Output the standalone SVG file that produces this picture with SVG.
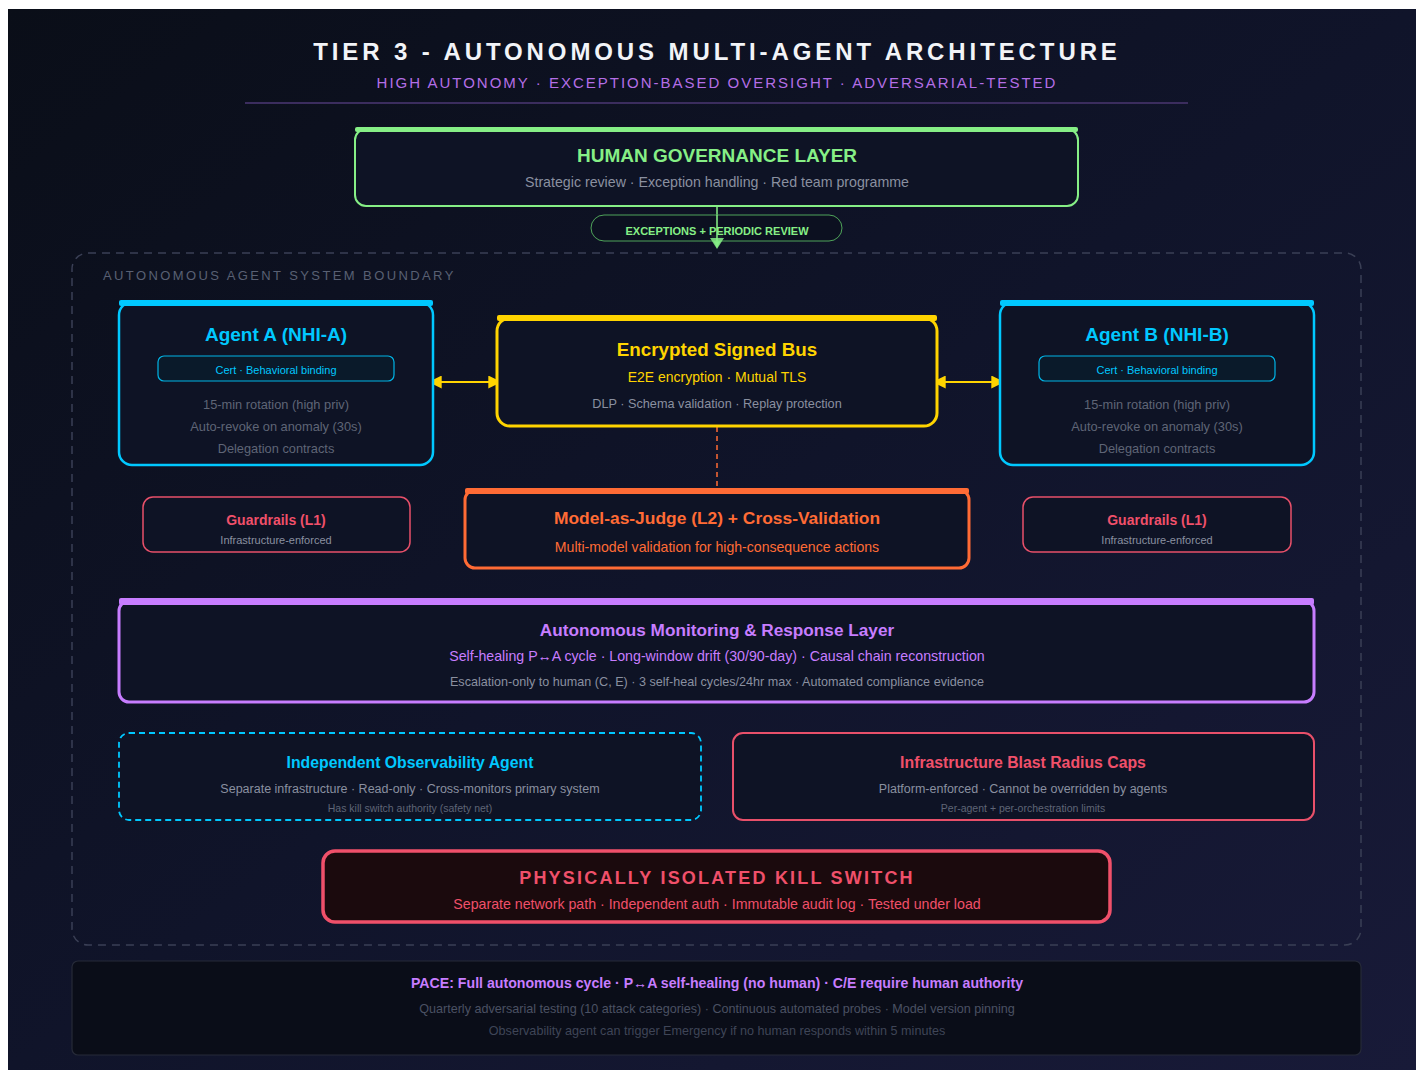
<svg xmlns="http://www.w3.org/2000/svg" width="1416" height="1070" viewBox="0 0 1416 1070">
<defs>
<linearGradient id="bg" x1="0" y1="0" x2="1" y2="1">
<stop offset="0" stop-color="#0a0e18"/>
<stop offset="0.5" stop-color="#10142a"/>
<stop offset="1" stop-color="#181a38"/>
</linearGradient>
<marker id="ay" viewBox="0 0 10 10" refX="9" refY="5" markerWidth="13" markerHeight="13" markerUnits="userSpaceOnUse" orient="auto-start-reverse">
<path d="M0,0 L10,5 L0,10 z" fill="#ffd400"/>
</marker>
<marker id="ag" viewBox="0 0 10 10" refX="9" refY="5" markerWidth="13" markerHeight="13" markerUnits="userSpaceOnUse" orient="auto">
<path d="M0,0 L10,5 L0,10 z" fill="#86ef86" fill-opacity="0.85"/>
</marker>
</defs>
<style>
text{font-family:"Liberation Sans",Arial,sans-serif;text-anchor:middle}
.box{fill:#0e1325}
.b{font-weight:bold}
.gray{fill:#8a90a0}
.dim{fill:#5f6576}
.cy{fill:#00c8ff}
.yl{fill:#ffd400}
.or{fill:#ff6b35}
.rd{fill:#f0506a}
.pu{fill:#c77dff}
.gr{fill:#86ef86}
</style>
<rect x="0" y="0" width="1416" height="1070" fill="#ffffff"/>
<rect x="8" y="9" width="1408" height="1061" fill="url(#bg)"/>

<g id="title">
<text x="717" y="60" font-size="24" class="b" fill="#f2f4f8" letter-spacing="3.9">TIER 3 - AUTONOMOUS MULTI-AGENT ARCHITECTURE</text>
<text x="717" y="88" font-size="15" letter-spacing="2" style="fill:#b46ee6">HIGH AUTONOMY · EXCEPTION-BASED OVERSIGHT · ADVERSARIAL-TESTED</text>
<line x1="245" y1="103" x2="1188" y2="103" stroke="#3b2d5e" stroke-width="2"/>
</g>

<g id="boundary">
<rect x="72" y="253" width="1289" height="692" rx="16" fill="none" stroke="#3a3f55" stroke-width="1.5" stroke-dasharray="8 6"/>
<text x="103" y="280" font-size="13" fill="#596073" letter-spacing="2.4" style="text-anchor:start">AUTONOMOUS AGENT SYSTEM BOUNDARY</text>
</g>

<g id="connectors">
<line x1="717" y1="206" x2="717" y2="247" stroke="#86ef86" stroke-width="1.5" marker-end="url(#ag)"/>
<line x1="430" y1="382" x2="500" y2="382" stroke="#ffd400" stroke-width="2" marker-start="url(#ay)" marker-end="url(#ay)"/>
<line x1="934" y1="382" x2="1003" y2="382" stroke="#ffd400" stroke-width="2" marker-start="url(#ay)" marker-end="url(#ay)"/>
<line x1="717" y1="427" x2="717" y2="489" stroke="#ff6b35" stroke-width="1.5" stroke-dasharray="5 4"/>
</g>

<g id="governance">
<rect x="355" y="129" width="723" height="77" rx="11" class="box" stroke="#86ef86" stroke-width="2"/>
<rect x="355" y="127" width="723" height="5" rx="2" fill="#86ef86"/>
<text x="717" y="162" font-size="19" class="b gr">HUMAN GOVERNANCE LAYER</text>
<text x="717" y="187" font-size="14.2" class="gray">Strategic review · Exception handling · Red team programme</text>
</g>

<g id="review-label">
<rect x="591" y="215" width="251" height="26" rx="13" fill="#0c1120" fill-opacity="0.9" stroke="#4fa35a" stroke-width="1"/>
<line x1="717" y1="215" x2="717" y2="241" stroke="#86ef86" stroke-width="1.5"/>
<text x="717" y="235" font-size="11" class="b gr">EXCEPTIONS + PERIODIC REVIEW</text>
<path d="M710,238 L724,238 L717,249 z" fill="#86ef86" fill-opacity="0.85"/>
</g>

<g id="agent-a">
<rect x="119" y="302" width="314" height="163" rx="13" class="box" stroke="#00c8ff" stroke-width="2.5"/>
<rect x="119" y="300" width="314" height="6" rx="2" fill="#00c8ff"/>
<text x="276" y="341" font-size="19" class="b cy">Agent A (NHI-A)</text>
<rect x="158" y="356" width="236" height="25" rx="6" fill="#0a1a2a" stroke="#00b4e6" stroke-width="1.2"/>
<text x="276" y="374" font-size="11" class="cy">Cert · Behavioral binding</text>
<text x="276" y="409" font-size="12.8" class="dim">15-min rotation (high priv)</text>
<text x="276" y="431" font-size="12.8" class="dim">Auto-revoke on anomaly (30s)</text>
<text x="276" y="453" font-size="12.8" class="dim">Delegation contracts</text>
</g>

<g id="bus">
<rect x="497" y="318" width="440" height="108" rx="13" class="box" stroke="#ffd400" stroke-width="3"/>
<rect x="497" y="315" width="440" height="6" rx="2" fill="#ffd400"/>
<text x="717" y="356" font-size="18.8" class="b yl">Encrypted Signed Bus</text>
<text x="717" y="382" font-size="14" class="yl">E2E encryption · Mutual TLS</text>
<text x="717" y="408" font-size="12.7" class="gray">DLP · Schema validation · Replay protection</text>
</g>

<g id="agent-b">
<rect x="1000" y="302" width="314" height="163" rx="13" class="box" stroke="#00c8ff" stroke-width="2.5"/>
<rect x="1000" y="300" width="314" height="6" rx="2" fill="#00c8ff"/>
<text x="1157" y="341" font-size="19" class="b cy">Agent B (NHI-B)</text>
<rect x="1039" y="356" width="236" height="25" rx="6" fill="#0a1a2a" stroke="#00b4e6" stroke-width="1.2"/>
<text x="1157" y="374" font-size="11" class="cy">Cert · Behavioral binding</text>
<text x="1157" y="409" font-size="12.8" class="dim">15-min rotation (high priv)</text>
<text x="1157" y="431" font-size="12.8" class="dim">Auto-revoke on anomaly (30s)</text>
<text x="1157" y="453" font-size="12.8" class="dim">Delegation contracts</text>
</g>

<g id="guardrails-a">
<rect x="143" y="497" width="267" height="55" rx="10" class="box" stroke="#e8506a" stroke-width="1.5"/>
<text x="276" y="525" font-size="14" class="b rd">Guardrails (L1)</text>
<text x="276" y="544" font-size="11" class="gray">Infrastructure-enforced</text>
</g>

<g id="judge">
<rect x="465" y="490" width="504" height="78" rx="10" class="box" stroke="#ff6b35" stroke-width="3"/>
<rect x="465" y="488" width="504" height="6" rx="2" fill="#ff6b35"/>
<text x="717" y="524" font-size="17.4" class="b or">Model-as-Judge (L2) + Cross-Validation</text>
<text x="717" y="552" font-size="14.1" class="or">Multi-model validation for high-consequence actions</text>
</g>

<g id="guardrails-b">
<rect x="1023" y="497" width="268" height="55" rx="10" class="box" stroke="#e8506a" stroke-width="1.5"/>
<text x="1157" y="525" font-size="14" class="b rd">Guardrails (L1)</text>
<text x="1157" y="544" font-size="11" class="gray">Infrastructure-enforced</text>
</g>

<g id="monitoring">
<rect x="119" y="601" width="1195" height="101" rx="10" class="box" stroke="#c77dff" stroke-width="3"/>
<rect x="119" y="598" width="1195" height="7" rx="2" fill="#c77dff"/>
<text x="717" y="636" font-size="17.2" class="b pu">Autonomous Monitoring &amp; Response Layer</text>
<text x="717" y="661" font-size="14.2" class="pu">Self-healing P↔A cycle · Long-window drift (30/90-day) · Causal chain reconstruction</text>
<text x="717" y="686" font-size="12.6" class="gray">Escalation-only to human (C, E) · 3 self-heal cycles/24hr max · Automated compliance evidence</text>
</g>

<g id="observability">
<rect x="119" y="733" width="582" height="87" rx="10" class="box" stroke="#00c8ff" stroke-width="1.8" stroke-dasharray="6 4"/>
<text x="410" y="768" font-size="15.8" class="b cy">Independent Observability Agent</text>
<text x="410" y="793" font-size="12.5" class="gray">Separate infrastructure · Read-only · Cross-monitors primary system</text>
<text x="410" y="812" font-size="10.5" class="dim">Has kill switch authority (safety net)</text>
</g>

<g id="blast">
<rect x="733" y="733" width="581" height="87" rx="10" class="box" stroke="#e8506a" stroke-width="2"/>
<text x="1023" y="768" font-size="15.8" class="b rd">Infrastructure Blast Radius Caps</text>
<text x="1023" y="793" font-size="12.5" class="gray">Platform-enforced · Cannot be overridden by agents</text>
<text x="1023" y="812" font-size="10.5" class="dim">Per-agent + per-orchestration limits</text>
</g>

<g id="kill-switch">
<rect x="323" y="851" width="787" height="71" rx="12" fill="#1b0a0d" stroke="#f0506a" stroke-width="3.5"/>
<text x="717" y="884" font-size="18" class="b rd" letter-spacing="2.2">PHYSICALLY ISOLATED KILL SWITCH</text>
<text x="717" y="909" font-size="14.2" class="rd">Separate network path · Independent auth · Immutable audit log · Tested under load</text>
</g>

<g id="pace">
<rect x="72" y="961" width="1289" height="94" rx="6" fill="#0a0d18" stroke="#262a38" stroke-width="1.2"/>
<text x="717" y="988" font-size="14.15" class="b pu">PACE: Full autonomous cycle · P↔A self-healing (no human) · C/E require human authority</text>
<text x="717" y="1013" font-size="12.6" fill="#4b5163">Quarterly adversarial testing (10 attack categories) · Continuous automated probes · Model version pinning</text>
<text x="717" y="1035" font-size="12.6" fill="#3f4557">Observability agent can trigger Emergency if no human responds within 5 minutes</text>
</g>
</svg>
